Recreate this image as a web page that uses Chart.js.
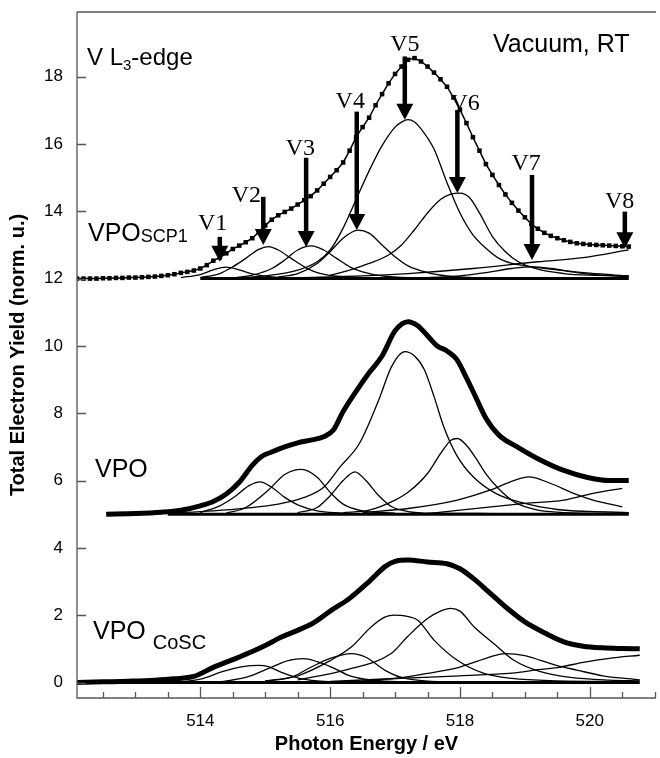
<!DOCTYPE html>
<html>
<head>
<meta charset="utf-8">
<script src="https://cdn.jsdelivr.net/npm/chart.js@4.4.1/dist/chart.umd.min.js"></script>
<style>
  html, body { margin: 0; padding: 0; background: #fff; }
  #wrap { width: 660px; height: 758px; }
</style>
</head>
<body>
<div id="wrap"><canvas id="chart" width="660" height="758"></canvas></div>
<script>
// axis ticks
const xTicks = [514, 516, 518, 520];
const xMinorTicks = [512.5, 513, 513.5, 514, 514.5, 515, 515.5, 516, 516.5, 517, 517.5, 518, 518.5, 519, 519.5, 520, 520.5, 521];
const yTicks = [0, 2, 4, 6, 8, 10, 12, 14, 16, 18];

// VPO SCP1 (offset 12) - measured points [eV, yield]
const scpTotal = [
  [512.1,12.00],[512.2,12.00],[512.3,12.00],[512.4,12.00],[512.5,12.01],[512.6,12.01],[512.7,12.02],[512.8,12.02],
  [512.9,12.03],[513.0,12.03],[513.1,12.04],[513.2,12.05],[513.3,12.06],[513.4,12.08],[513.5,12.10],[513.6,12.13],
  [513.7,12.17],[513.8,12.20],[513.9,12.24],[514.0,12.30],[514.1,12.40],[514.2,12.53],[514.3,12.63],[514.4,12.75],
  [514.5,12.88],[514.6,12.98],[514.7,13.08],[514.8,13.20],[514.9,13.38],[515.0,13.58],[515.1,13.75],[515.2,13.88],
  [515.3,13.98],[515.4,14.08],[515.5,14.20],[515.6,14.33],[515.7,14.45],[515.8,14.62],[515.9,14.82],[516.0,15.02],
  [516.1,15.22],[516.2,15.45],[516.3,15.80],[516.4,16.20],[516.5,16.50],[516.6,16.78],[516.7,17.15],[516.8,17.48],
  [516.9,17.80],[517.0,18.08],[517.1,18.30],[517.2,18.50],[517.3,18.55],[517.4,18.45],[517.5,18.30],[517.6,18.12],
  [517.7,17.92],[517.8,17.70],[517.9,17.38],[518.0,17.02],[518.1,16.62],[518.2,16.20],[518.3,15.80],[518.4,15.40],
  [518.5,15.08],[518.6,14.78],[518.7,14.50],[518.8,14.25],[518.9,14.02],[519.0,13.82],[519.1,13.62],[519.2,13.48],
  [519.3,13.36],[519.4,13.27],[519.5,13.20],[519.6,13.14],[519.7,13.09],[519.8,13.05],[519.9,13.03],[520.0,13.01],
  [520.1,13.00],[520.2,12.99],[520.3,12.98],[520.4,12.97],[520.5,12.96],[520.6,12.95]
];
const scpBase = [[514.0,12.0],[520.6,12.0]];
const scpV1 = [[513.7,12.03],[514.0,12.12],[514.2,12.26],[514.39,12.34],[514.6,12.26],[514.8,12.14],[515.1,12.05],[515.5,12.02]];
const scpV2 = [[514.0,12.03],[514.3,12.15],[514.5,12.35],[514.7,12.6],[514.9,12.87],[515.05,12.95],[515.2,12.85],[515.4,12.6],[515.6,12.35],[515.8,12.18],[516.1,12.07],[516.5,12.03]];
const scpV3 = [[514.5,12.02],[514.8,12.1],[515.1,12.3],[515.3,12.55],[515.5,12.85],[515.71,12.97],[515.9,12.85],[516.1,12.6],[516.3,12.35],[516.5,12.2],[516.8,12.08],[517.2,12.03],[518.0,12.02]];
const scpV4 = [[515.2,12.05],[515.5,12.15],[515.8,12.45],[516.0,12.8],[516.2,13.2],[516.43,13.44],[516.6,13.35],[516.8,13.0],[517.0,12.65],[517.2,12.38],[517.5,12.18],[517.8,12.08],[518.2,12.03],[519.0,12.02],[520.6,12.02]];
const scpV5 = [[514.5,12.02],[515.0,12.08],[515.5,12.25],[515.8,12.5],[516.0,12.85],[516.2,13.5],[516.4,14.35],[516.6,15.2],[516.8,15.95],[517.0,16.5],[517.1,16.65],[517.2,16.72],[517.3,16.65],[517.4,16.45],[517.6,15.85],[517.8,14.85],[518.0,13.95],[518.2,13.3],[518.4,12.9],[518.6,12.6],[518.8,12.45],[519.0,12.38],[519.5,12.26],[520.0,12.16],[520.6,12.08]];
const scpV6 = [[516.0,12.1],[516.3,12.25],[516.6,12.45],[516.9,12.7],[517.1,13.0],[517.3,13.45],[517.5,13.95],[517.7,14.35],[517.85,14.5],[518.0,14.54],[518.15,14.4],[518.3,13.95],[518.5,13.25],[518.7,12.8],[518.9,12.5],[519.2,12.28],[519.6,12.15],[520.0,12.1],[520.6,12.08]];
const scpV7 = [[517.5,12.03],[518.0,12.08],[518.4,12.18],[518.8,12.3],[519.1,12.35],[519.4,12.3],[519.8,12.18],[520.2,12.1],[520.6,12.05]];
const scpV8 = [[515.5,12.03],[516.5,12.08],[517.2,12.15],[518.2,12.3],[519.2,12.5],[519.9,12.62],[520.6,12.85]];

// VPO (offset 5)
const vpoTotal = [
  [512.55,5.0],[513.0,5.02],[513.4,5.06],[513.7,5.12],[514.0,5.25],[514.2,5.38],[514.4,5.6],[514.6,5.95],[514.8,6.45],
  [514.95,6.72],[515.1,6.85],[515.3,7.0],[515.5,7.12],[515.7,7.2],[515.9,7.3],[516.05,7.5],[516.2,8.05],[516.4,8.65],
  [516.6,9.2],[516.8,9.7],[517.0,10.45],[517.2,10.72],[517.35,10.6],[517.5,10.3],[517.65,10.0],[517.8,9.85],[517.95,9.6],
  [518.1,9.05],[518.25,8.45],[518.4,7.85],[518.6,7.35],[518.9,6.98],[519.2,6.65],[519.6,6.3],[519.95,6.1],[520.3,6.0],[520.6,6.0]
];
const vpoBase = [[513.5,5.0],[520.6,5.0]];
const vpoV2 = [[514.0,5.05],[514.3,5.25],[514.55,5.55],[514.75,5.85],[514.92,5.96],[515.1,5.8],[515.3,5.5],[515.5,5.28],[515.8,5.1],[516.2,5.03]];
const vpoV3 = [[514.4,5.03],[514.7,5.2],[515.05,5.72],[515.3,6.18],[515.56,6.33],[515.8,6.1],[516.0,5.65],[516.2,5.3],[516.5,5.1],[517.0,5.03]];
const vpoV4 = [[515.5,5.05],[515.8,5.2],[516.0,5.55],[516.2,6.0],[516.38,6.26],[516.55,6.0],[516.75,5.55],[516.95,5.22],[517.2,5.08],[517.6,5.03],[518.5,5.02]];
const vpoV5 = [[513.5,5.03],[514.2,5.1],[514.7,5.18],[515.2,5.3],[515.6,5.5],[515.9,5.8],[516.15,6.4],[516.45,7.1],[516.75,8.4],[516.95,9.4],[517.15,9.83],[517.3,9.7],[517.45,9.3],[517.6,8.5],[517.75,7.6],[517.95,6.75],[518.2,6.12],[518.55,5.62],[519.0,5.32],[519.5,5.14],[520.0,5.08],[520.6,5.05]];
const vpoV6 = [[516.2,5.05],[516.6,5.12],[517.0,5.42],[517.2,5.65],[517.5,6.21],[517.7,6.8],[517.86,7.2],[517.96,7.25],[518.1,7.05],[518.25,6.65],[518.4,6.2],[518.6,5.75],[518.85,5.35],[519.2,5.12],[519.6,5.05],[520.6,5.02]];
const vpoV7 = [[516.5,5.05],[517.2,5.17],[517.96,5.42],[518.47,5.72],[518.83,6.0],[519.06,6.11],[519.39,5.92],[519.75,5.62],[520.05,5.42],[520.5,5.22]];
const vpoV8 = [[517.5,5.02],[518.0,5.12],[519.0,5.32],[519.6,5.42],[520.05,5.62],[520.5,5.77]];

// VPO CoSC (offset 0)
const coscTotal = [
  [512.1,0.0],[512.5,0.02],[512.9,0.04],[513.3,0.07],[513.6,0.11],[513.9,0.18],[514.2,0.45],[514.5,0.68],[514.8,0.92],
  [515.0,1.1],[515.25,1.35],[515.5,1.55],[515.75,1.78],[516.0,2.12],[516.3,2.5],[516.6,3.0],[516.85,3.45],[517.0,3.6],
  [517.2,3.64],[517.5,3.58],[517.8,3.53],[518.0,3.38],[518.2,3.1],[518.45,2.68],[518.7,2.25],[519.0,1.8],[519.3,1.48],
  [519.6,1.21],[519.9,1.08],[520.2,1.03],[520.5,1.01],[520.77,1.0]
];
const coscBase = [[512.1,0.0],[520.77,0.0]];
const coscV2 = [[513.7,0.02],[514.0,0.1],[514.34,0.32],[514.65,0.47],[514.9,0.51],[515.05,0.47],[515.25,0.3],[515.5,0.14],[515.8,0.05],[516.2,0.02]];
const coscV3 = [[514.3,0.02],[514.7,0.15],[515.1,0.46],[515.35,0.65],[515.59,0.71],[515.8,0.62],[516.02,0.46],[516.33,0.18],[516.7,0.06],[517.2,0.02]];
const coscV4 = [[515.0,0.04],[515.4,0.16],[515.71,0.46],[516.0,0.72],[516.33,0.86],[516.55,0.75],[516.84,0.37],[517.1,0.15],[517.5,0.04],[518.0,0.02]];
const coscV5 = [[515.0,0.05],[515.5,0.2],[516.0,0.65],[516.33,1.06],[516.63,1.65],[516.85,1.95],[516.99,2.0],[517.15,1.98],[517.35,1.85],[517.6,1.26],[517.96,0.66],[518.37,0.27],[518.8,0.12],[519.5,0.05],[520.5,0.03]];
const coscV6 = [[515.5,0.08],[516.23,0.37],[516.94,0.86],[517.19,1.36],[517.5,1.9],[517.7,2.12],[517.86,2.2],[518.0,2.12],[518.22,1.65],[518.52,1.16],[518.83,0.66],[519.24,0.32],[519.7,0.15],[520.3,0.07],[520.77,0.05]];
const coscV7 = [[516.5,0.05],[517.0,0.12],[517.5,0.27],[518.0,0.46],[518.4,0.72],[518.7,0.86],[519.0,0.8],[519.24,0.66],[519.5,0.5],[519.8,0.37],[520.2,0.2],[520.77,0.08]];
const coscV8 = [[516.0,0.03],[517.0,0.12],[518.0,0.2],[518.8,0.28],[519.2,0.38],[519.55,0.46],[519.9,0.6],[520.3,0.72],[520.77,0.81]];

// V1..V8 arrows: energy, arrow top, arrow tip
const arrowNames = ['V1', 'V2', 'V3', 'V4', 'V5', 'V6', 'V7', 'V8'];
const arrowEnergy = [514.3, 514.97, 515.63, 516.41, 517.15, 517.96, 519.11, 520.54];
const arrowTop = [13.24, 14.43, 15.59, 16.96, 18.6, 17.01, 15.08, 13.99];
const arrowTip = [12.5, 13.0, 12.94, 13.44, 16.72, 14.54, 12.55, 12.9];

const xy = arr => arr.map(p => ({ x: p[0], y: p[1] }));

function component(data) {
    return {
        data: xy(data),
        borderColor: '#000',
        borderWidth: 1.3,
        pointRadius: 0,
        cubicInterpolationMode: 'monotone',
    };
}
function baseline(data) {
    return { data: xy(data), borderColor: '#000', borderWidth: 3, pointRadius: 0 };
}
function thick(data) {
    return {
        data: xy(data),
        borderColor: '#000',
        borderWidth: 5,
        pointRadius: 0,
        cubicInterpolationMode: 'monotone',
        borderCapStyle: 'butt',
    };
}

const datasets = [
    baseline(scpBase),
    ...[scpV1, scpV2, scpV3, scpV4, scpV5, scpV6, scpV7, scpV8].map(component),
    {
        data: xy(scpTotal),
        borderColor: '#000',
        borderWidth: 1.5,
        pointStyle: 'rect',
        pointRadius: 3.2,
        pointBackgroundColor: '#000',
        pointBorderWidth: 0,
        tension: 0,
    },
    baseline(vpoBase),
    ...[vpoV2, vpoV3, vpoV4, vpoV5, vpoV6, vpoV7, vpoV8].map(component),
    thick(vpoTotal),
    baseline(coscBase),
    ...[coscV2, coscV3, coscV4, coscV5, coscV6, coscV7, coscV8].map(component),
    thick(coscTotal),
];

const SANS = "'Liberation Sans', Arial, sans-serif";
const SERIF = "'Liberation Serif', 'Times New Roman', serif";

const decorations = {
    id: 'decorations',
    afterDatasetsDraw(chart) {
        const { ctx, chartArea: a, scales: { x, y } } = chart;
        ctx.save();

        // frame and inside ticks
        ctx.strokeStyle = '#555';
        ctx.lineWidth = 1.3;
        ctx.beginPath();
        ctx.moveTo(a.left, a.top); ctx.lineTo(a.right, a.top);
        ctx.moveTo(a.left, a.top); ctx.lineTo(a.left, a.bottom); ctx.lineTo(a.right, a.bottom);
        yTicks.forEach(v => {
            const py = Math.round(y.getPixelForValue(v)) + 0.5;
            ctx.moveTo(a.left, py); ctx.lineTo(a.left + 9, py);
        });
        xMinorTicks.forEach(v => {
            const px = Math.round(x.getPixelForValue(v)) + 0.5;
            const len = xTicks.includes(v) ? 11 : 6;
            ctx.moveTo(px, a.bottom); ctx.lineTo(px, a.bottom - len);
        });
        ctx.stroke();

        // arrows
        ctx.fillStyle = '#000';
        ctx.strokeStyle = '#000';
        arrowNames.forEach((name, i) => {
            const px = x.getPixelForValue(arrowEnergy[i]);
            const top = y.getPixelForValue(arrowTop[i]);
            const tip = y.getPixelForValue(arrowTip[i]);
            ctx.lineWidth = 4.5;
            ctx.beginPath();
            ctx.moveTo(px, top); ctx.lineTo(px, tip - 14);
            ctx.stroke();
            ctx.beginPath();
            ctx.moveTo(px - 8.5, tip - 16);
            ctx.lineTo(px + 8.5, tip - 16);
            ctx.lineTo(px, tip);
            ctx.closePath();
            ctx.fill();
        });

        // arrow labels
        const labelE = [514.19, 514.71, 515.54, 516.31, 517.15, 518.08, 519.02, 520.46];
        const labelV = [13.44, 14.29, 15.67, 17.06, 18.75, 17.01, 15.22, 14.09];
        ctx.font = '24px ' + SERIF;
        ctx.textAlign = 'center';
        ctx.textBaseline = 'alphabetic';
        arrowNames.forEach((name, i) => {
            ctx.fillText(name, x.getPixelForValue(labelE[i]), y.getPixelForValue(labelV[i]));
        });

        // text runs: [text, size, dy]
        ctx.textAlign = 'left';
        const run = (px, py, parts) => {
            let cx = px;
            parts.forEach(([t, size, dy]) => {
                ctx.font = size + 'px ' + SANS;
                ctx.fillText(t, cx, py + dy);
                cx += ctx.measureText(t).width;
            });
        };
        run(87, 65, [['V L', 24, 0], ['3', 15, 5], ['-edge', 24, 0]]);
        run(493, 52, [['Vacuum, RT', 25, 0]]);
        run(88, 241, [['VPO', 25, 0], ['SCP1', 18, 1]]);
        run(95, 477, [['VPO', 25, 0]]);
        run(93, 639, [['VPO ', 25, 0], ['CoSC', 20, 10]]);

        ctx.restore();
    },
};

new Chart(document.getElementById('chart'), {
    type: 'line',
    data: { datasets },
    plugins: [decorations],
    options: {
        responsive: false,
        animation: false,
        layout: { padding: { top: 12, right: 0, left: 0, bottom: 0 } },
        plugins: { legend: { display: false }, tooltip: { enabled: false } },
        scales: {
            x: {
                type: 'linear',
                min: 512.1,
                max: 521.02,
                grid: { display: false, drawTicks: false },
                border: { display: false },
                afterBuildTicks: (s) => { s.ticks = xTicks.map(v => ({ value: v })); },
                afterFit: (s) => { s.height = 60; s.paddingLeft = 0; s.paddingRight = 0; },
                ticks: {
                    color: '#000',
                    padding: 13,
                    font: { family: SANS, size: 17 },
                },
                title: {
                    display: true,
                    text: 'Photon Energy / eV',
                    color: '#000',
                    font: { family: SANS, size: 20, weight: 'bold' },
                    padding: { top: 0, bottom: 2 },
                },
            },
            y: {
                type: 'linear',
                min: -0.46,
                max: 19.92,
                grid: { display: false, drawTicks: false },
                border: { display: false },
                afterBuildTicks: (s) => { s.ticks = yTicks.map(v => ({ value: v })); },
                afterFit: (s) => { s.width = 77; s.paddingTop = 0; s.paddingBottom = 0; },
                ticks: {
                    color: '#000',
                    padding: 14,
                    font: { family: SANS, size: 17 },
                },
                title: {
                    display: true,
                    text: 'Total Electron Yield (norm. u.)',
                    color: '#000',
                    font: { family: SANS, size: 20, weight: 'bold' },
                    padding: { top: 6, bottom: 0 },
                },
            },
        },
    },
});
</script>
</body>
</html>
